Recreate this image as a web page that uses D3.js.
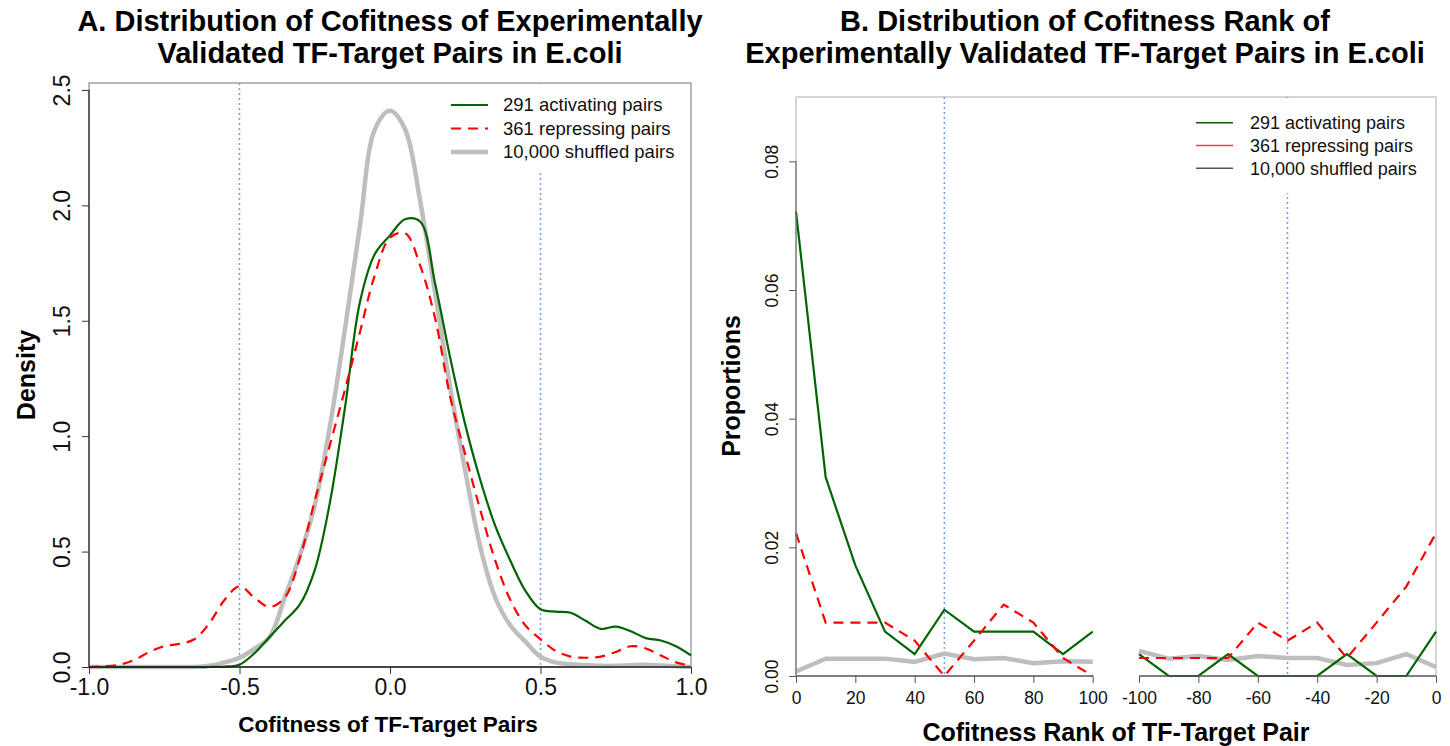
<!DOCTYPE html>
<html>
<head>
<meta charset="utf-8">
<script src="https://cdn.jsdelivr.net/npm/d3@7"></script>
<style>
  body { margin: 0; background: #fff; }
  svg { display: block; font-family: "Liberation Sans", Arial, Helvetica, sans-serif; }
</style>
</head>
<body>
<svg id="chart" width="1450" height="746"></svg>
<script>
// panel A: density of cofitness
var densX = [-1.00, -0.95, -0.90, -0.85, -0.80, -0.75, -0.70, -0.65, -0.60, -0.55, -0.50, -0.45, -0.40, -0.35, -0.30, -0.25, -0.20, -0.15, -0.10, -0.05,
  0.00, 0.05, 0.10, 0.15, 0.20, 0.25, 0.30, 0.35, 0.40, 0.45, 0.50, 0.55, 0.60, 0.65, 0.70, 0.75, 0.80, 0.85, 0.90, 0.95, 1.00];
var densActivating = [0, 0, 0, 0, 0, 0, 0, 0, 0, 0.002, 0.01, 0.06, 0.13, 0.20, 0.27, 0.42, 0.71, 1.12, 1.58, 1.79,
  1.87, 1.94, 1.93, 1.66, 1.34, 1.05, 0.81, 0.61, 0.46, 0.33, 0.25, 0.24, 0.235, 0.20, 0.165, 0.175, 0.155, 0.125, 0.115, 0.09, 0.05];
var densRepressing = [0, 0.003, 0.01, 0.03, 0.065, 0.09, 0.10, 0.12, 0.19, 0.29, 0.35, 0.30, 0.26, 0.30, 0.47, 0.72, 0.96, 1.20, 1.45, 1.70,
  1.86, 1.88, 1.74, 1.51, 1.17, 0.92, 0.68, 0.46, 0.29, 0.18, 0.12, 0.07, 0.045, 0.04, 0.045, 0.065, 0.09, 0.08, 0.05, 0.02, 0.005];
var densShuffled = [0, 0, 0, 0, 0, 0, 0, 0, 0.005, 0.02, 0.04, 0.08, 0.13, 0.30, 0.48, 0.70, 1.04, 1.46, 1.91, 2.33,
  2.41, 2.33, 2.02, 1.62, 1.21, 0.85, 0.52, 0.30, 0.18, 0.11, 0.045, 0.02, 0.012, 0.008, 0.005, 0.005, 0.008, 0.01, 0.006, 0.003, 0];
var densXTicks = [-1.0, -0.5, 0.0, 0.5, 1.0];
var densYTicks = [0.0, 0.5, 1.0, 1.5, 2.0, 2.5];
var densCutoffs = [-0.5, 0.5];

// panel B: proportions by cofitness rank (top ranks, then bottom ranks)
var topRanks = [0, 10, 20, 30, 40, 50, 60, 70, 80, 90, 100];
var bottomRanks = [-100, -90, -80, -70, -60, -50, -40, -30, -20, -10, 0];
var topActivating = [0.0722, 0.0309, 0.0172, 0.0069, 0.0034, 0.0103, 0.0069, 0.0069, 0.0069, 0.0034, 0.0069];
var topRepressing = [0.0222, 0.0083, 0.0083, 0.0083, 0.0055, 0.0, 0.0055, 0.0111, 0.0083, 0.0028, 0.0];
var topShuffled = [0.0007, 0.0027, 0.0027, 0.0027, 0.0022, 0.0035, 0.0026, 0.0028, 0.0020, 0.0023, 0.0022];
var bottomActivating = [0.0034, 0, 0, 0.0034, 0, 0, 0, 0.0034, 0, 0, 0.0069];
var bottomRepressing = [0.0028, 0.0028, 0.0028, 0.0028, 0.0083, 0.0055, 0.0083, 0.0028, 0.0083, 0.0139, 0.0222];
var bottomShuffled = [0.0039, 0.0027, 0.0031, 0.0025, 0.0031, 0.0028, 0.0028, 0.0017, 0.0020, 0.0034, 0.0014];
var topTicks = [0, 20, 40, 60, 80, 100];
var bottomTicks = [-100, -80, -60, -40, -20, 0];
var propYTicks = [0.00, 0.02, 0.04, 0.06, 0.08];
var rankCutoffs = [50, -50];

var legendLabels = ['291 activating pairs', '361 repressing pairs', '10,000 shuffled pairs'];

var svg = d3.select('#chart');
var green = '#006400', red = '#ff0000', grey = '#bebebe', cutColor = '#6f9cf0';

// ---------- panel A ----------
var xA = d3.scaleLinear().domain([-1, 1]).range([89, 691]);
var yA = d3.scaleLinear().domain([0, 2.53]).range([667, 83]);
var gA = svg.append('g');

gA.append('rect').attr('x', 89).attr('y', 83).attr('width', 602).attr('height', 584)
  .attr('fill', 'none').attr('stroke', '#8a8a8a').attr('stroke-width', 1.2);

densCutoffs.forEach(function(c) {
  gA.append('line').attr('x1', xA(c)).attr('x2', xA(c)).attr('y1', yA.range()[1]).attr('y2', yA(0))
    .attr('stroke', cutColor).attr('stroke-width', 1.5).attr('stroke-dasharray', '2,3');
});

var lineA = d3.line().x(function(d, i) { return xA(densX[i]); }).y(function(d) { return yA(d); }).curve(d3.curveCatmullRom);
gA.append('path').datum(densShuffled).attr('d', lineA).attr('fill', 'none').attr('stroke', grey).attr('stroke-width', 4.5);
gA.append('path').datum(densActivating).attr('d', lineA).attr('fill', 'none').attr('stroke', green).attr('stroke-width', 2.2);
gA.append('path').datum(densRepressing).attr('d', lineA).attr('fill', 'none').attr('stroke', red).attr('stroke-width', 2.2).attr('stroke-dasharray', '10,7');

// axes
var axA = gA.append('g').attr('transform', 'translate(0,667)')
  .call(d3.axisBottom(xA).tickValues(densXTicks).tickSize(7).tickPadding(5).tickFormat(function(d) { return d.toFixed(1); }));
axA.select('.domain').remove();
axA.append('line').attr('x1', xA(-1)).attr('x2', xA(1)).attr('stroke', '#222').attr('stroke-width', 1.3);
axA.selectAll('text').attr('font-size', 23).attr('fill', '#111');
axA.selectAll('.tick line').attr('stroke', '#333');

var ayA = gA.append('g').attr('transform', 'translate(89,0)')
  .call(d3.axisLeft(yA).tickValues(densYTicks).tickSize(7).tickFormat(function(d) { return d.toFixed(1); }));
ayA.select('.domain').remove();
ayA.append('line').attr('y1', yA(0)).attr('y2', yA(2.5)).attr('stroke', '#333').attr('stroke-width', 1.3);
ayA.selectAll('.tick line').attr('stroke', '#333');
ayA.selectAll('text').attr('font-size', 23).attr('fill', '#111').attr('x', 0).attr('dy', '0.35em')
  .attr('text-anchor', 'middle').attr('transform', 'translate(-27,0) rotate(-90)');

// legend
var legA = gA.append('g');
legA.append('rect').attr('x', 441).attr('y', 84).attr('width', 249).attr('height', 89).attr('fill', '#fff');
var legStylesA = [[green, 2.2, null], [red, 2.2, '10,7'], [grey, 4.5, null]];
legendLabels.forEach(function(t, i) {
  var yy = 105 + i * 23.5;
  legA.append('line').attr('x1', 451).attr('x2', 488).attr('y1', yy).attr('y2', yy)
    .attr('stroke', legStylesA[i][0]).attr('stroke-width', legStylesA[i][1]).attr('stroke-dasharray', legStylesA[i][2]);
  legA.append('text').attr('x', 503).attr('y', yy).attr('dy', '0.35em').attr('font-size', 18.5).attr('fill', '#111').text(t);
});

// titles
gA.append('text').attr('x', 390).attr('y', 31).attr('text-anchor', 'middle').attr('font-size', 29).attr('font-weight', 'bold')
  .text('A. Distribution of Cofitness of Experimentally');
gA.append('text').attr('x', 390).attr('y', 63).attr('text-anchor', 'middle').attr('font-size', 29).attr('font-weight', 'bold')
  .text('Validated TF-Target Pairs in E.coli');
gA.append('text').attr('x', 388).attr('y', 732).attr('text-anchor', 'middle').attr('font-size', 22.5).attr('font-weight', 'bold')
  .text('Cofitness of TF-Target Pairs');
gA.append('text').attr('transform', 'translate(26,375) rotate(-90)').attr('dy', '0.35em').attr('text-anchor', 'middle')
  .attr('font-size', 25).attr('font-weight', 'bold').text('Density');

// ---------- panel B ----------
var xTop = d3.scaleLinear().domain([0, 100]).range([796, 1092.7]);
var xBottom = d3.scaleLinear().domain([-100, 0]).range([1139, 1436]);
var yB = d3.scaleLinear().domain([0, 0.09]).range([676, 97]);
var gB = svg.append('g');

// box: top and right sides only
gB.append('path').attr('d', 'M796,97H1436V676').attr('fill', 'none').attr('stroke', '#c8c8c8').attr('stroke-width', 1.5);
gB.append('line').attr('x1', 796).attr('x2', 796).attr('y1', 97).attr('y2', 676).attr('stroke', '#c8c8c8').attr('stroke-width', 1.5);

gB.append('line').attr('x1', xTop(rankCutoffs[0])).attr('x2', xTop(rankCutoffs[0])).attr('y1', 97).attr('y2', 676)
  .attr('stroke', cutColor).attr('stroke-width', 1.5).attr('stroke-dasharray', '2,3');
gB.append('line').attr('x1', xBottom(rankCutoffs[1])).attr('x2', xBottom(rankCutoffs[1])).attr('y1', 97).attr('y2', 676)
  .attr('stroke', cutColor).attr('stroke-width', 1.5).attr('stroke-dasharray', '2,3');

function rankLine(xs, scale) {
  return d3.line().x(function(d, i) { return scale(xs[i]); }).y(function(d) { return yB(d); });
}
var lTop = rankLine(topRanks, xTop), lBottom = rankLine(bottomRanks, xBottom);
[[topShuffled, lTop], [bottomShuffled, lBottom]].forEach(function(s) {
  gB.append('path').datum(s[0]).attr('d', s[1]).attr('fill', 'none').attr('stroke', grey).attr('stroke-width', 4.5);
});
[[topActivating, lTop], [bottomActivating, lBottom]].forEach(function(s) {
  gB.append('path').datum(s[0]).attr('d', s[1]).attr('fill', 'none').attr('stroke', green).attr('stroke-width', 2.2);
});
[[topRepressing, lTop], [bottomRepressing, lBottom]].forEach(function(s) {
  gB.append('path').datum(s[0]).attr('d', s[1]).attr('fill', 'none').attr('stroke', red).attr('stroke-width', 2.2).attr('stroke-dasharray', '10,7');
});

// axes
[[xTop, topTicks], [xBottom, bottomTicks]].forEach(function(a) {
  var ax = gB.append('g').attr('transform', 'translate(0,676)')
    .call(d3.axisBottom(a[0]).tickValues(a[1]).tickSize(7).tickPadding(9).tickFormat(function(d) { return String(d); }));
  ax.select('.domain').remove();
  ax.append('line').attr('x1', a[0](a[1][0])).attr('x2', a[0](a[1][a[1].length - 1])).attr('stroke', '#555').attr('stroke-width', 1.3);
  ax.selectAll('.tick line').attr('stroke', '#555');
  ax.selectAll('text').attr('font-size', 17.5).attr('fill', '#111');
});
var ayB = gB.append('g').attr('transform', 'translate(796,0)')
  .call(d3.axisLeft(yB).tickValues(propYTicks).tickSize(7).tickFormat(function(d) { return d.toFixed(2); }));
ayB.select('.domain').remove();
ayB.append('line').attr('y1', yB(0)).attr('y2', yB(0.08)).attr('stroke', '#777').attr('stroke-width', 1.3);
ayB.selectAll('.tick line').attr('stroke', '#555');
ayB.selectAll('text').attr('font-size', 17.5).attr('fill', '#111').attr('x', 0).attr('dy', '0.35em')
  .attr('text-anchor', 'middle').attr('transform', 'translate(-24,0) rotate(-90)');

// legend
var legB = gB.append('g');
legB.append('rect').attr('x', 1180).attr('y', 98).attr('width', 255).attr('height', 95).attr('fill', '#fff');
var legColorsB = [green, '#ff3a3a', '#555'];
legendLabels.forEach(function(t, i) {
  var yy = 122.7 + i * 22.8;
  legB.append('line').attr('x1', 1196).attr('x2', 1233).attr('y1', yy).attr('y2', yy)
    .attr('stroke', legColorsB[i]).attr('stroke-width', 1.5);
  legB.append('text').attr('x', 1250).attr('y', yy).attr('dy', '0.35em').attr('font-size', 18).attr('fill', '#111').text(t);
});

// titles
gB.append('text').attr('x', 1085).attr('y', 31).attr('text-anchor', 'middle').attr('font-size', 29).attr('font-weight', 'bold')
  .text('B. Distribution of Cofitness Rank of');
gB.append('text').attr('x', 1085).attr('y', 63).attr('text-anchor', 'middle').attr('font-size', 29).attr('font-weight', 'bold')
  .text('Experimentally Validated TF-Target Pairs in E.coli');
gB.append('text').attr('x', 1116).attr('y', 741).attr('text-anchor', 'middle').attr('font-size', 25).attr('font-weight', 'bold')
  .text('Cofitness Rank of TF-Target Pair');
gB.append('text').attr('transform', 'translate(731,386) rotate(-90)').attr('dy', '0.35em').attr('text-anchor', 'middle')
  .attr('font-size', 25).attr('font-weight', 'bold').text('Proportions');
</script>
</body>
</html>
